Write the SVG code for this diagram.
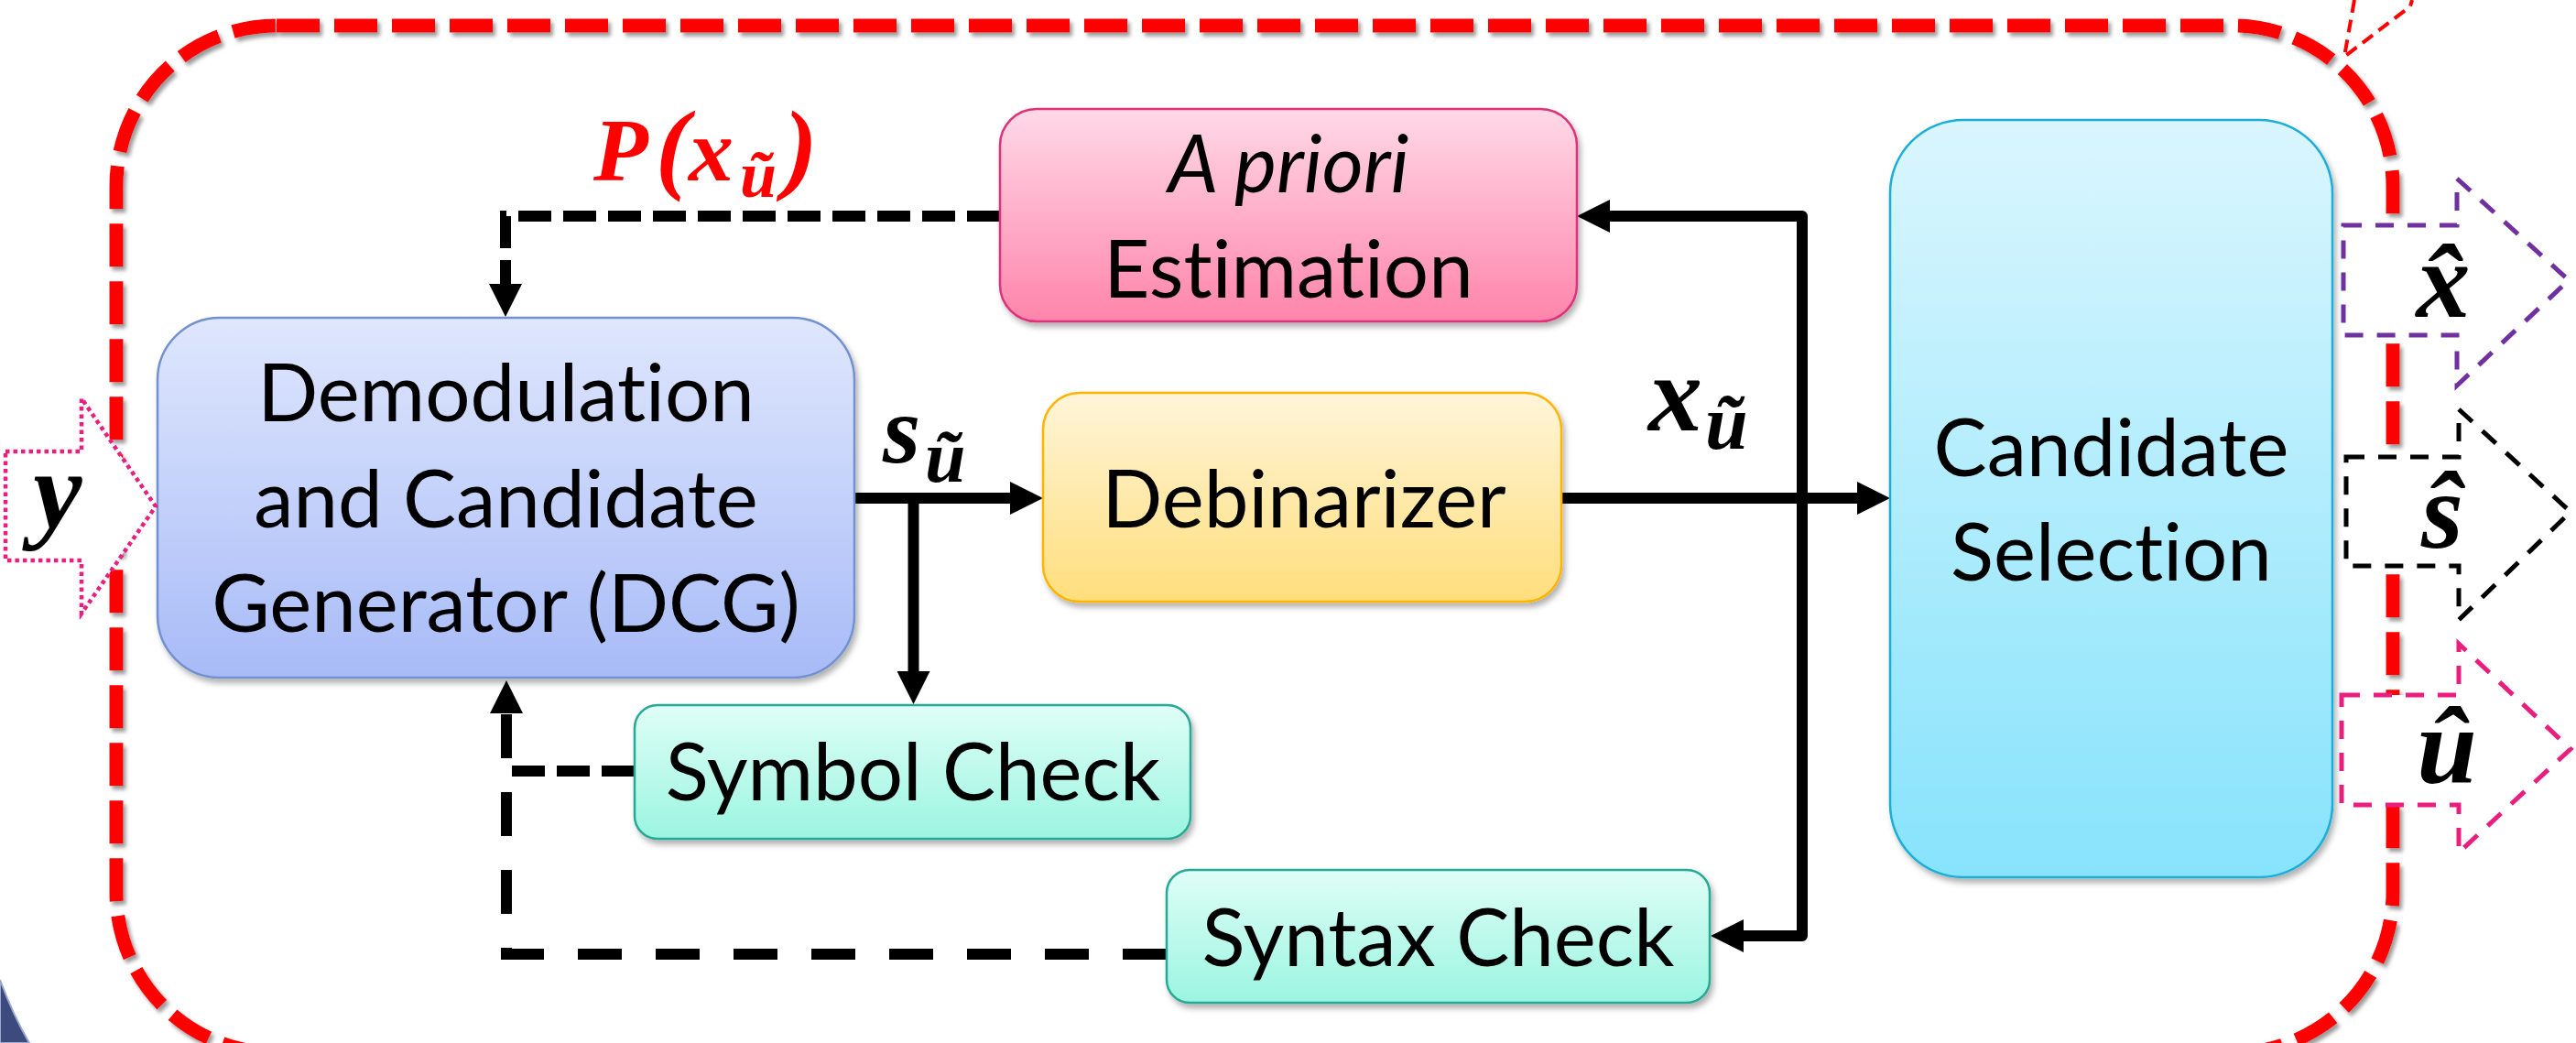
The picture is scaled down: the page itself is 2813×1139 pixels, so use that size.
<svg xmlns="http://www.w3.org/2000/svg" width="2813" height="1139" viewBox="0 0 2813 1139">
<defs>
<style>
.box{stroke-width:2.5}
.lbl{font-family:Lato,"Open Sans",sans-serif;font-size:87px;fill:#000;text-anchor:middle;font-variant-ligatures:none;font-feature-settings:"liga" 0}
.math{font-family:"Liberation Serif","DejaVu Serif",serif;font-weight:bold;font-style:italic;fill:#000}
.solid{fill:none;stroke:#000;stroke-width:12;stroke-linejoin:round}
.dashA{fill:none;stroke:#000;stroke-width:12;stroke-dasharray:36 13}
.dashB{fill:none;stroke:#000;stroke-width:12;stroke-dasharray:48 37}
.outarrow{fill:#fff;stroke-width:5;stroke-dasharray:20 15}
</style>
<linearGradient id="gDCG" x1="0" y1="0" x2="0" y2="1"><stop offset="0" stop-color="#DFE7FD"/><stop offset="1" stop-color="#A8BBF7"/></linearGradient>
<linearGradient id="gPri" x1="0" y1="0" x2="0" y2="1"><stop offset="0" stop-color="#FFD9E7"/><stop offset="1" stop-color="#FF84AC"/></linearGradient>
<linearGradient id="gDeb" x1="0" y1="0" x2="0" y2="1"><stop offset="0" stop-color="#FFF5D9"/><stop offset="1" stop-color="#FFDE7C"/></linearGradient>
<linearGradient id="gCan" x1="0" y1="0" x2="0" y2="1"><stop offset="0" stop-color="#DAF6FE"/><stop offset="1" stop-color="#87E3FC"/></linearGradient>
<linearGradient id="gChk" x1="0" y1="0" x2="0" y2="1"><stop offset="0" stop-color="#DFFEF6"/><stop offset="1" stop-color="#9BF5E1"/></linearGradient>
<filter id="sh" x="-10%" y="-10%" width="130%" height="130%"><feDropShadow dx="3" dy="5" stdDeviation="3" flood-color="#000" flood-opacity="0.3"/></filter>
<filter id="shr" x="-5%" y="-5%" width="110%" height="110%"><feDropShadow dx="3" dy="4" stdDeviation="2" flood-color="#808080" flood-opacity="0.8"/></filter>
<marker id="ah" viewBox="0 0 36 36" markerUnits="userSpaceOnUse" markerWidth="36" markerHeight="36" refX="0" refY="18" orient="auto"><path d="M0,0 L36,18 L0,36 Z" fill="#000"/></marker>
</defs>
<rect width="2813" height="1139" fill="#fff"/>
<path d="M0,1070 Q14,1108 32,1139 L0,1139 Z" fill="#3C4A7D" stroke="#9AA8CC" stroke-width="2"/>
<g id="boundary">
<rect x="127" y="28" width="2486" height="1122" rx="175" ry="175" fill="none" stroke="#FF0000" stroke-width="15" stroke-dasharray="47 16" filter="url(#shr)"/>
<polyline points="2571,0 2560,62 2632,7 2634,0" fill="none" stroke="#FF0000" stroke-width="4" stroke-dasharray="14 8"/>
</g>
<g id="connectors">
<path class="dashA" d="M1092,236 H552 V310" marker-end="url(#ah)"/>
<path class="solid" d="M933,544 H1103" marker-end="url(#ah)"/>
<path class="solid" d="M997.5,544 V733" marker-end="url(#ah)"/>
<path class="solid" d="M1706,544 H2028" marker-end="url(#ah)"/>
<path class="solid" d="M1758,236 H1968 V1022 H1904" stroke-width="11"/>
<path d="M1722,236 L1758,218 L1758,254 Z M1868,1022 L1904,1004 L1904,1040 Z" fill="#000"/>
<path class="dashA" d="M693,842 H553"/>
<path class="dashB" d="M1274,1042 H553 V779" marker-end="url(#ah)"/>
</g>
<g id="dcg" filter="url(#sh)">
<rect class="box" x="172" y="347" width="761" height="393" rx="68" fill="url(#gDCG)" stroke="#7391D0"/>
<text class="lbl" x="552.5" y="460">Demodulation</text>
<text class="lbl" x="552.5" y="576">and Candidate</text>
<text class="lbl" x="552.5" y="690">Generator (DCG)</text>
</g>
<g id="apriori" filter="url(#sh)">
<rect class="box" x="1092" y="119" width="630" height="232" rx="40" fill="url(#gPri)" stroke="#E0307A"/>
<text class="lbl" x="1407" y="210" font-style="italic">A priori</text>
<text class="lbl" x="1407" y="325">Estimation</text>
</g>
<g id="debinarizer" filter="url(#sh)">
<rect class="box" x="1139" y="429" width="566" height="228" rx="40" fill="url(#gDeb)" stroke="#FFB400" stroke-width="3"/>
<text class="lbl" x="1424" y="576">Debinarizer</text>
</g>
<g id="candidate" filter="url(#sh)">
<rect class="box" x="2064" y="131" width="483" height="827" rx="80" fill="url(#gCan)" stroke="#1AAED8"/>
<text class="lbl" x="2305.5" y="520">Candidate</text>
<text class="lbl" x="2305.5" y="634">Selection</text>
</g>
<g id="symbolcheck" filter="url(#sh)">
<rect class="box" x="693" y="770" width="607" height="146" rx="25" fill="url(#gChk)" stroke="#27A995"/>
<text class="lbl" x="997" y="874">Symbol Check</text>
</g>
<g id="syntaxcheck" filter="url(#sh)">
<rect class="box" x="1274" y="950" width="593" height="145" rx="25" fill="url(#gChk)" stroke="#27A995"/>
<text class="lbl" x="1570.5" y="1055">Syntax Check</text>
</g>
<g id="labels">
<text class="math" y="197" font-size="98" style="fill:#FF0000"><tspan x="648">P</tspan><tspan x="716" font-size="110">(</tspan><tspan x="752">x</tspan><tspan x="808" y="215" font-size="72">ũ</tspan><tspan x="856" y="197" font-size="110">)</tspan></text>
<text class="math" y="505" font-size="106"><tspan x="964">s</tspan><tspan x="1010" y="526" font-size="80">ũ</tspan></text>
<text class="math" y="470" font-size="118"><tspan x="1800">x</tspan><tspan x="1862" y="490" font-size="84">ũ</tspan></text>
</g>
<g id="input-y">
<polygon points="6,493 89,493 89,435 170,553 89,670 89,612 6,612" fill="#fff" stroke="#EA1E7E" stroke-width="4.5" stroke-dasharray="4.5 4"/>
<text class="math" x="63" y="576" font-size="120" text-anchor="middle">y</text>
</g>
<g id="output-x">
<polygon class="outarrow" points="2559,246 2683,246 2683,195 2805,306 2683,421 2683,366 2559,366" stroke="#7030A0"/>
<text class="math" x="2668" y="346" font-size="118" text-anchor="middle">x̂</text>
</g>
<g id="output-s">
<polygon class="outarrow" points="2562,499 2685,499 2685,447 2807,559 2685,677 2685,618 2562,618" stroke="#000" stroke-width="4.5"/>
<text class="math" x="2667" y="598" font-size="118" text-anchor="middle">ŝ</text>
</g>
<g id="output-u">
<polygon class="outarrow" points="2557,759 2685,759 2685,703 2807,818 2685,931 2685,879 2557,879" stroke="#EA1E7E" stroke-width="4.5"/>
<text class="math" x="2672" y="855" font-size="118" text-anchor="middle">û</text>
</g>
</svg>
